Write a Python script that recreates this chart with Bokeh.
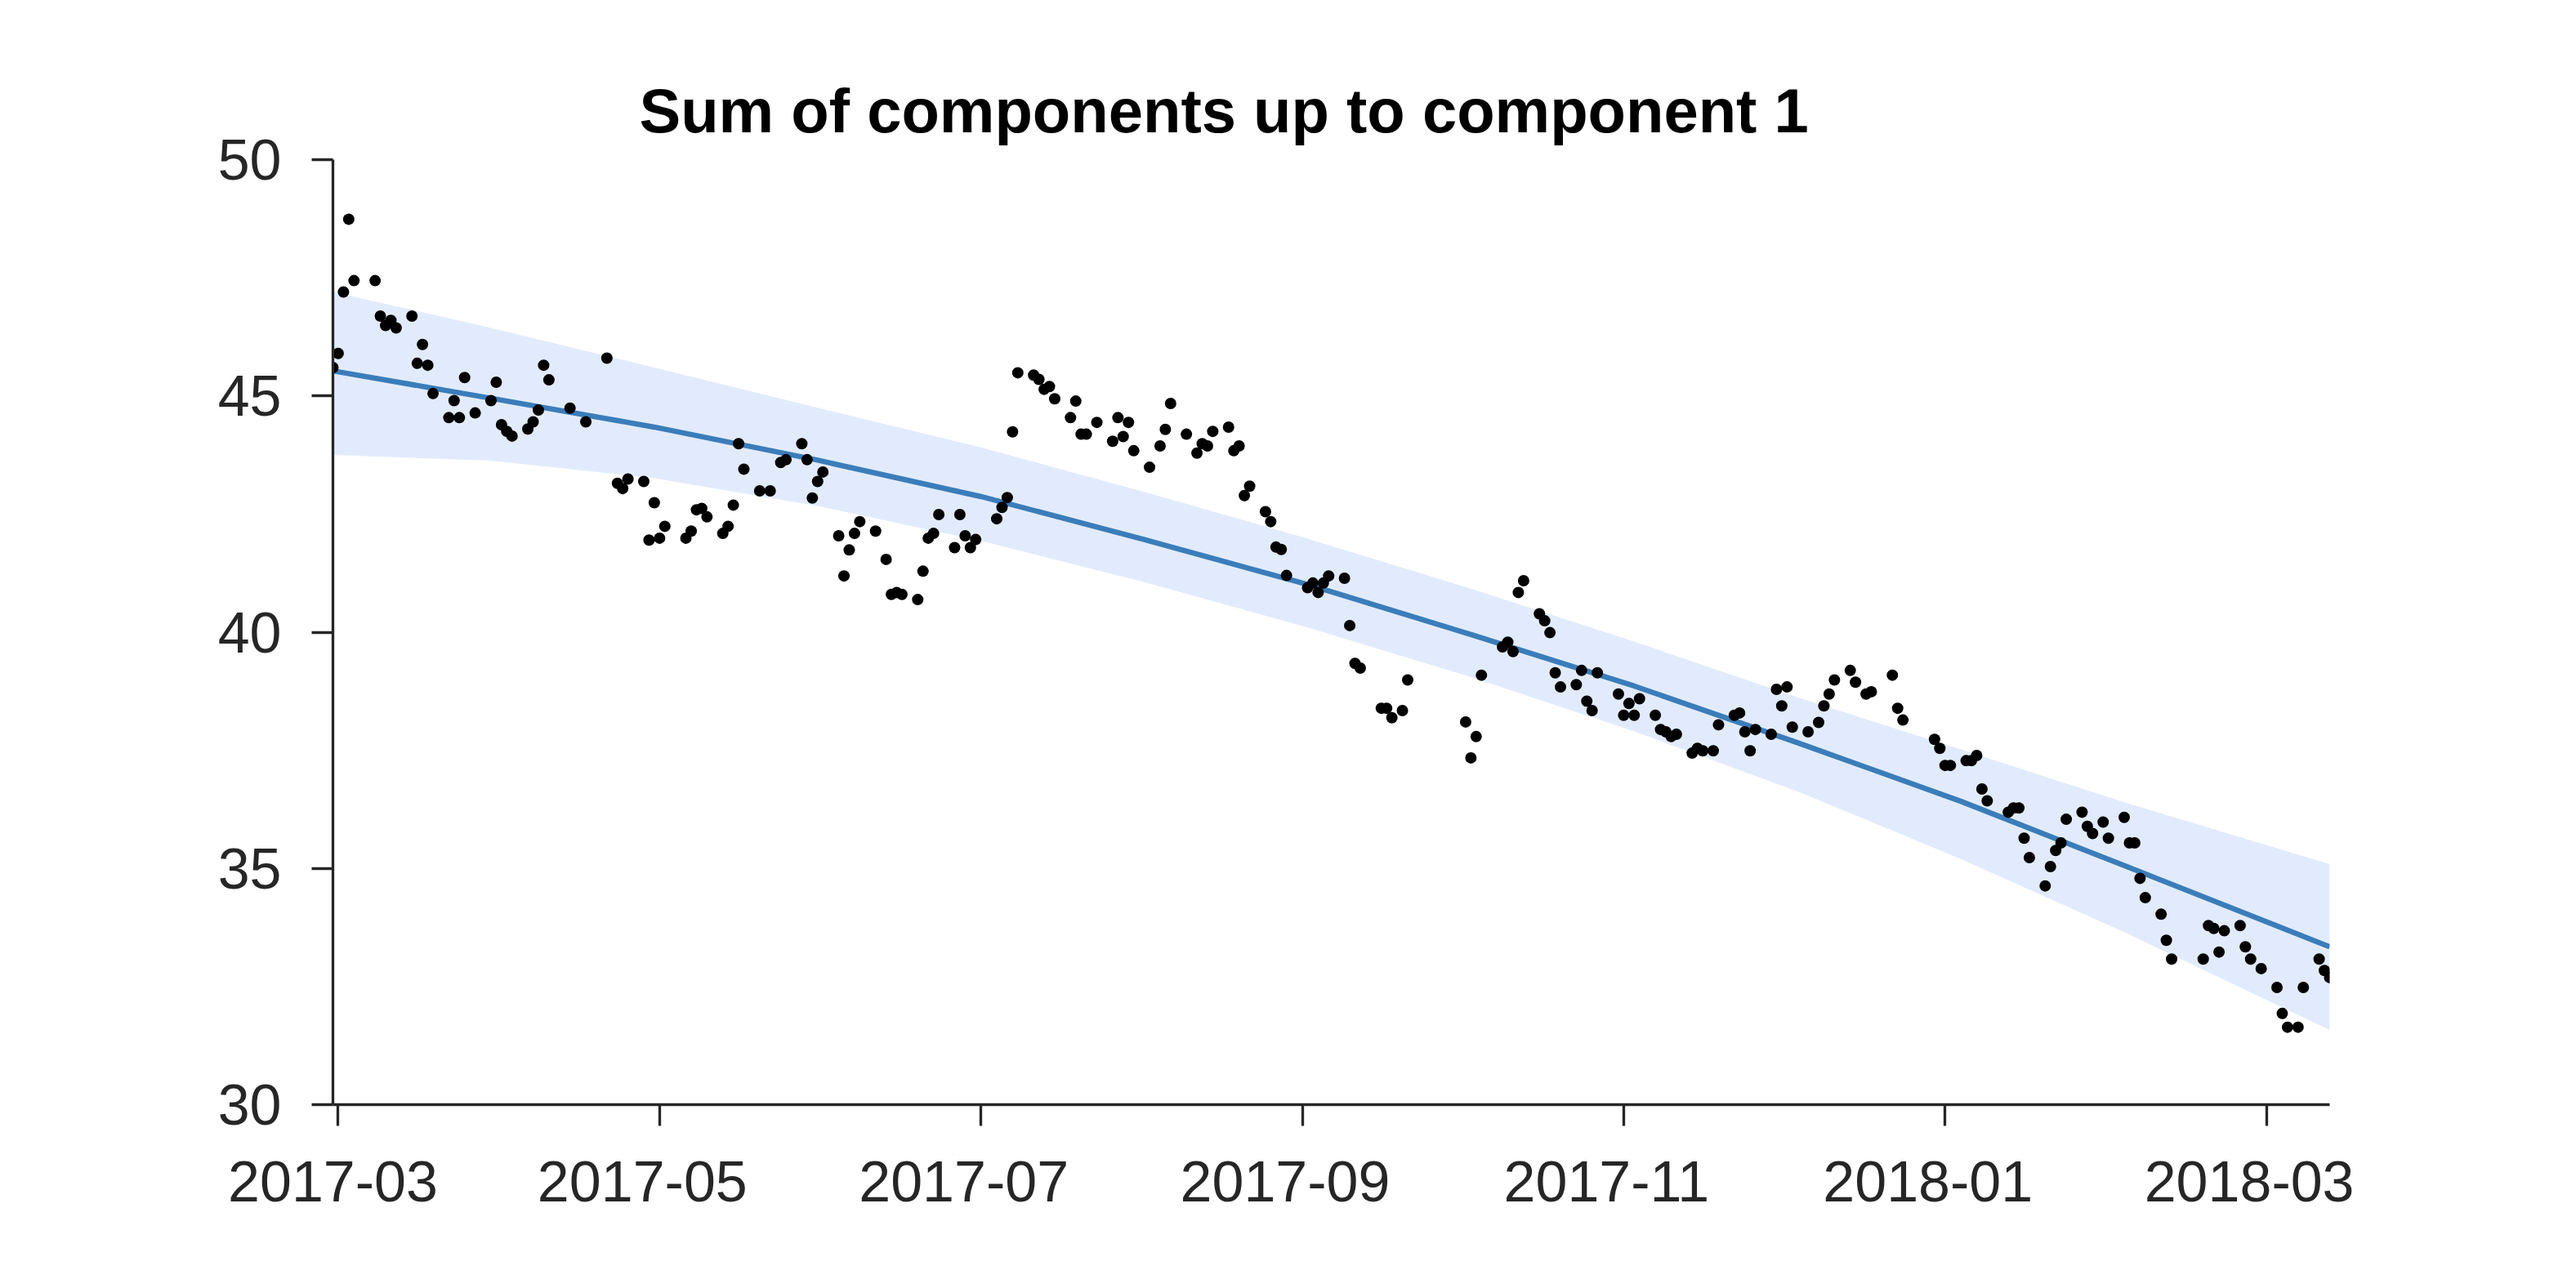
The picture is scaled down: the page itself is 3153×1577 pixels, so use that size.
import pandas as pd
from bokeh.plotting import figure
from bokeh.models import Range1d, FixedTicker
from bokeh.embed import file_html
from bokeh.resources import INLINE

title_text = "Sum of components up to component 1"

obs_dates = [
    "2017-03-01", "2017-03-02", "2017-03-03", "2017-03-04", "2017-03-05",
    "2017-03-09", "2017-03-10", "2017-03-11", "2017-03-12", "2017-03-13",
    "2017-03-16", "2017-03-17", "2017-03-18", "2017-03-19", "2017-03-20",
    "2017-03-23", "2017-03-24", "2017-03-25", "2017-03-26", "2017-03-28",
    "2017-03-31", "2017-04-01", "2017-04-02", "2017-04-03", "2017-04-04",
    "2017-04-07", "2017-04-08", "2017-04-09", "2017-04-10", "2017-04-11",
    "2017-04-15", "2017-04-18", "2017-04-22", "2017-04-24", "2017-04-25",
    "2017-04-26", "2017-04-29", "2017-04-30", "2017-05-01", "2017-05-02",
    "2017-05-03", "2017-05-07", "2017-05-08", "2017-05-09", "2017-05-10",
    "2017-05-11", "2017-05-14", "2017-05-15", "2017-05-16", "2017-05-17",
    "2017-05-18", "2017-05-21", "2017-05-23", "2017-05-25", "2017-05-26",
    "2017-05-29", "2017-05-30", "2017-05-31", "2017-06-01", "2017-06-02",
    "2017-06-05", "2017-06-06", "2017-06-07", "2017-06-08", "2017-06-09",
    "2017-06-12", "2017-06-14", "2017-06-15", "2017-06-16", "2017-06-17",
    "2017-06-20", "2017-06-21", "2017-06-22", "2017-06-23", "2017-06-24",
    "2017-06-27", "2017-06-28", "2017-06-29", "2017-06-30", "2017-07-01",
    "2017-07-05", "2017-07-06", "2017-07-07", "2017-07-08", "2017-07-09",
    "2017-07-12", "2017-07-13", "2017-07-14", "2017-07-15", "2017-07-16",
    "2017-07-19", "2017-07-20", "2017-07-21", "2017-07-22", "2017-07-24",
    "2017-07-27", "2017-07-28", "2017-07-29", "2017-07-30", "2017-07-31",
    "2017-08-03", "2017-08-05", "2017-08-06", "2017-08-07", "2017-08-10",
    "2017-08-12", "2017-08-13", "2017-08-14", "2017-08-15", "2017-08-18",
    "2017-08-19", "2017-08-20", "2017-08-21", "2017-08-22", "2017-08-25",
    "2017-08-26", "2017-08-27", "2017-08-28", "2017-08-29", "2017-09-02",
    "2017-09-03", "2017-09-04", "2017-09-05", "2017-09-06", "2017-09-09",
    "2017-09-10", "2017-09-11", "2017-09-12", "2017-09-16", "2017-09-17",
    "2017-09-18", "2017-09-20", "2017-09-21", "2017-10-02", "2017-10-03",
    "2017-10-04", "2017-10-05", "2017-10-09", "2017-10-10", "2017-10-11",
    "2017-10-12", "2017-10-13", "2017-10-16", "2017-10-17", "2017-10-18",
    "2017-10-19", "2017-10-20", "2017-10-23", "2017-10-24", "2017-10-25",
    "2017-10-26", "2017-10-27", "2017-10-31", "2017-11-01", "2017-11-02",
    "2017-11-03", "2017-11-04", "2017-11-07", "2017-11-08", "2017-11-09",
    "2017-11-10", "2017-11-11", "2017-11-14", "2017-11-15", "2017-11-16",
    "2017-11-18", "2017-11-19", "2017-11-22", "2017-11-23", "2017-11-24",
    "2017-11-25", "2017-11-26", "2017-11-29", "2017-11-30", "2017-12-01",
    "2017-12-02", "2017-12-03", "2017-12-06", "2017-12-08", "2017-12-09",
    "2017-12-10", "2017-12-11", "2017-12-14", "2017-12-15", "2017-12-17",
    "2017-12-18", "2017-12-22", "2017-12-23", "2017-12-24", "2017-12-30",
    "2017-12-31", "2018-01-01", "2018-01-02", "2018-01-05", "2018-01-06",
    "2018-01-07", "2018-01-08", "2018-01-09", "2018-01-13", "2018-01-14",
    "2018-01-15", "2018-01-16", "2018-01-17", "2018-01-20", "2018-01-21",
    "2018-01-22", "2018-01-23", "2018-01-24", "2018-01-27", "2018-01-28",
    "2018-01-29", "2018-01-31", "2018-02-01", "2018-02-04", "2018-02-05",
    "2018-02-06", "2018-02-07", "2018-02-08", "2018-02-11", "2018-02-12",
    "2018-02-13", "2018-02-19", "2018-02-20", "2018-02-21", "2018-02-22",
    "2018-02-23", "2018-02-26", "2018-02-27", "2018-02-28", "2018-03-02",
    "2018-03-05", "2018-03-06", "2018-03-07", "2018-03-09", "2018-03-10",
    "2018-03-13", "2018-03-14", "2018-03-15",
]

obs_values = [
    45.60, 45.90, 47.20, 48.74, 47.44,
    47.44, 46.69, 46.49, 46.60, 46.44,
    46.69, 45.69, 46.09, 45.65, 45.05,
    44.54, 44.90, 44.54, 45.39, 44.64,
    44.90, 45.29, 44.39, 44.25, 44.15,
    44.30, 44.45, 44.70, 45.65, 45.34,
    44.74, 44.45, 45.80, 43.15, 43.04,
    43.24, 43.19, 41.95, 42.74, 41.99,
    42.24, 41.99, 42.14, 42.59, 42.62,
    42.44, 42.09, 42.24, 42.69, 43.99,
    43.45, 42.99, 42.99, 43.59, 43.65,
    43.99, 43.65, 42.84, 43.19, 43.39,
    42.04, 41.19, 41.74, 42.09, 42.34,
    42.14, 41.54, 40.80, 40.84, 40.80,
    40.69, 41.29, 41.99, 42.09, 42.49,
    41.79, 42.49, 42.04, 41.79, 41.96,
    42.40, 42.64, 42.85, 44.24, 45.49,
    45.44, 45.35, 45.14, 45.20, 44.94,
    44.54, 44.89, 44.19, 44.19, 44.44,
    44.04, 44.54, 44.14, 44.44, 43.84,
    43.49, 43.94, 44.29, 44.84, 44.19,
    43.79, 43.99, 43.94, 44.25, 44.34,
    43.84, 43.94, 42.89, 43.09, 42.55,
    42.34, 41.80, 41.75, 41.20, 40.94,
    41.04, 40.84, 41.04, 41.19, 41.14,
    40.14, 39.34, 39.24, 38.39, 38.39,
    38.19, 38.34, 38.99, 38.10, 37.34,
    37.79, 39.09, 39.69, 39.79, 39.59,
    40.84, 41.09, 40.39, 40.24, 39.99,
    39.14, 38.84, 38.89, 39.19, 38.54,
    38.34, 39.14, 38.69, 38.24, 38.49,
    38.24, 38.59, 38.24, 37.94, 37.89,
    37.79, 37.84, 37.44, 37.54, 37.49,
    37.49, 38.04, 38.24, 38.29, 37.89,
    37.49, 37.94, 37.84, 38.79, 38.44,
    38.84, 37.99, 37.89, 38.09, 38.44,
    38.69, 38.99, 39.19, 38.94, 38.69,
    38.74, 39.09, 38.39, 38.14, 37.73,
    37.54, 37.18, 37.18, 37.28, 37.28,
    37.39, 36.68, 36.43, 36.19, 36.28,
    36.28, 35.64, 35.23, 34.63, 35.04,
    35.38, 35.54, 36.04, 36.19, 35.89,
    35.74, 35.98, 35.64, 36.08, 35.54,
    35.54, 34.79, 34.38, 34.03, 33.48,
    33.08, 33.08, 33.79, 33.73, 33.23,
    33.68, 33.79, 33.34, 33.08, 32.88,
    32.48, 31.93, 31.64, 31.64, 32.48,
    33.08, 32.84, 32.69,
]

trend_dates = [
    "2017-03-01", "2017-03-31", "2017-05-01", "2017-06-01", "2017-07-02",
    "2017-08-02", "2017-09-02", "2017-10-03", "2017-11-03", "2017-12-04",
    "2018-01-04", "2018-02-04", "2018-03-15",
]
trend_mean = [45.53, 44.95, 44.34, 43.64, 42.87, 41.96, 41.01, 39.95, 38.86, 37.66, 36.42, 35.06, 33.34]
trend_upper = [47.20, 46.44, 45.60, 44.75, 43.91, 42.97, 41.98, 40.92, 39.80, 38.62, 37.52, 36.40, 35.09]
trend_lower = [43.75, 43.63, 43.26, 42.67, 41.93, 41.06, 40.10, 39.05, 37.90, 36.63, 35.20, 33.65, 31.58]

x_tick_dates = ["2017-03-02", "2017-05-02", "2017-07-02", "2017-09-01",
                "2017-11-01", "2018-01-01", "2018-03-03"]
x_tick_labels = ["2017-03", "2017-05", "2017-07", "2017-09", "2017-11", "2018-01", "2018-03"]
y_ticks = [30, 35, 40, 45, 50]

FONT = "Liberation Sans"
AX = "#262626"
FRAME_W = 2444
LABEL_SHIFT_PX = 21  # reference draws the x labels slightly left of their ticks

obs_x = pd.to_datetime(obs_dates)
tr_x = pd.to_datetime(trend_dates)


def ms(s):
    return float(pd.Timestamp(s).value // 10**6)


x0, x1 = ms(obs_dates[0]), ms(obs_dates[-1])

p = figure(
    x_axis_type="datetime",
    output_backend="svg",
    toolbar_location=None,
    frame_width=FRAME_W,
    frame_height=1157,
    min_border_left=407,
    min_border_right=270,
    min_border_top=195,
    min_border_bottom=180,
    x_range=Range1d(x0, x1),
    y_range=Range1d(30, 50),
    title=title_text,
)
p.outline_line_color = None
p.grid.visible = False
p.background_fill_color = "white"
p.border_fill_color = "white"

p.varea(x=tr_x, y1=trend_lower, y2=trend_upper, fill_color="#e2ebfd", fill_alpha=1.0)
p.line(x=tr_x, y=trend_mean, line_color="#3a7dba", line_width=6.5)
p.scatter(x=obs_x, y=obs_values, size=14, fill_color="black", line_color=None)

p.title.text_font = FONT
p.title.text_font_style = "bold"
p.title.text_font_size = "76px"
p.title.text_color = "black"
p.title.align = "left"
p.title.offset = 375
p.title.standoff = 36

# visible tick marks are drawn as "minor" ticks at the true tick dates; the
# (invisible) major ticks carry the labels, nudged a few pixels to the left
# (kept inside the axis range so that none is dropped)
tick_ms = [ms(d) for d in x_tick_dates]
shift = LABEL_SHIFT_PX * (x1 - x0) / FRAME_W
label_ms = [max(t - shift, x0 + 1.0) for t in tick_ms]
p.xaxis.ticker = FixedTicker(ticks=label_ms, minor_ticks=tick_ms)
p.xaxis.major_label_overrides = {t: lab for t, lab in zip(label_ms, x_tick_labels)}
p.yaxis.ticker = FixedTicker(ticks=y_ticks)

for ax in (p.xaxis[0], p.yaxis[0]):
    ax.axis_line_color = AX
    ax.axis_line_width = 3.3
    ax.major_tick_line_color = AX
    ax.major_tick_line_width = 3.3
    ax.major_tick_out = 26
    ax.major_tick_in = 0
    ax.minor_tick_out = 0
    ax.minor_tick_in = 0
    ax.major_label_text_font = FONT
    ax.major_label_text_font_size = "70px"
    ax.major_label_text_color = AX

xa = p.xaxis[0]
xa.major_tick_line_color = None
xa.minor_tick_line_color = AX
xa.minor_tick_line_width = 3.3
xa.minor_tick_out = 26
xa.minor_tick_in = 0

p.yaxis.major_label_standoff = 37
p.xaxis.major_label_standoff = 43

open("out.html", "w").write(file_html(p, INLINE))
